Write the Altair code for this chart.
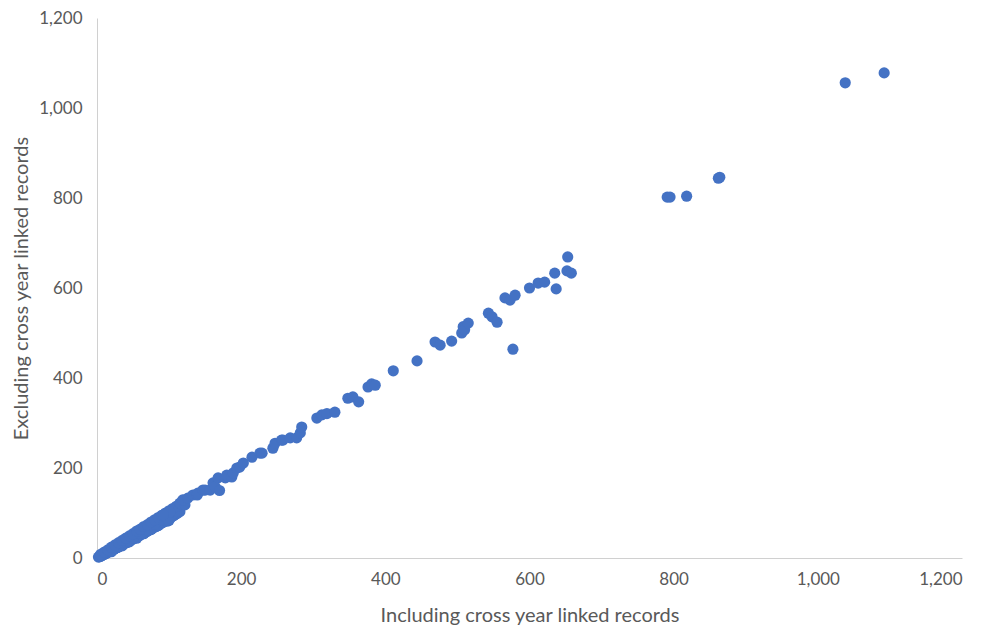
import altair as alt
import pandas as pd

# Including cross year linked records (x) vs Excluding (y)
incl = [2, 3, 4, 5, 6, 7, 8, 9, 10, 11, 12, 13, 14, 15, 16, 17, 18, 19, 20, 21,
        22, 23, 24, 25, 26, 27, 28, 29, 30, 32, 33, 34, 35, 36, 38, 39, 40, 42, 43, 45,
        46, 48, 50, 51, 53, 55, 56, 58, 60, 62, 63, 65, 67, 69, 70, 72, 74, 76, 78, 80,
        82, 84, 86, 88, 90, 92, 94, 96, 98, 100, 102, 104, 106, 108, 110, 112, 115,
        20, 35, 45, 55, 65, 75, 85, 92, 98, 100, 30, 50, 60, 70, 80, 90, 95, 105, 110,
        5, 10, 15, 20, 25, 30, 35, 40, 45, 50, 55, 60, 65, 70, 75, 80, 85, 90, 95, 100,
        105, 110, 115, 120,
        99, 101, 92, 115, 122, 119, 126, 133, 139, 140, 147, 150, 157, 161, 164, 170,
        168, 178, 180, 187, 189, 194, 198, 203, 215, 226, 229, 244, 247, 256, 258, 268,
        277, 282, 284, 305, 312, 319, 330, 348, 355, 363, 376, 381, 386, 411, 444, 469,
        476, 492, 506, 508, 510, 515, 543, 548, 555, 566, 573, 577, 580, 600, 612, 621,
        635, 637, 652, 653, 658, 791, 795, 818, 862, 864, 1038, 1092]
excl = [2, 3, 3, 4, 5, 6, 7, 8, 8, 9, 10, 11, 12, 13, 13, 14, 15, 16, 17, 18,
        18, 19, 20, 21, 22, 23, 23, 24, 25, 27, 28, 28, 29, 30, 32, 33, 34, 35, 36, 38,
        39, 41, 42, 43, 45, 47, 48, 49, 51, 53, 54, 56, 57, 59, 60, 62, 63, 65, 67, 69,
        70, 72, 74, 76, 78, 80, 82, 83, 86, 88, 90, 92, 94, 96, 98, 100, 103,
        14, 27, 36, 44, 54, 63, 72, 80, 82, 84, 26, 45, 55, 62, 75, 85, 90, 98, 104,
        8, 13, 18, 24, 29, 34, 39, 44, 49, 54, 60, 64, 70, 74, 80, 85, 90, 95, 100, 105,
        110, 115, 120, 125,
        84, 102, 96, 122, 118, 129, 133, 140, 140, 144, 151, 151, 151, 167, 158, 150,
        178, 178, 184, 180, 189, 200, 202, 211, 224, 233, 233, 244, 255, 262, 262, 267,
        267, 278, 291, 311, 318, 321, 324, 355, 358, 347, 380, 387, 384, 416, 438, 480,
        473, 482, 500, 514, 507, 522, 544, 536, 524, 578, 573, 464, 584, 600, 611, 613,
        633, 598, 638, 669, 633, 802, 802, 804, 844, 846, 1056, 1078]

x_ticks = [0, 200, 400, 600, 800, 1000, 1200]
y_ticks = [0, 200, 400, 600, 800, 1000, 1200]

df = pd.DataFrame({"incl": incl, "excl": excl})

FONT = "Lato"
TXT = "#595959"

chart = alt.Chart(df).mark_circle(size=125, color="#4472C4", opacity=1).encode(
    x=alt.X("incl:Q",
            scale=alt.Scale(domain=[0, 1200], nice=False, zero=True),
            axis=alt.Axis(title="Including cross year linked records", values=x_ticks,
                          format=",.0f", grid=False, ticks=False, domainColor="#D0D0D0",
                          labelPadding=13, labelFontSize=17, labelColor=TXT, labelFont=FONT,
                          titleFont=FONT, titleFontSize=20, titleFontWeight="normal",
                          titleColor=TXT, titleBaseline="middle", titleY=57)),
    y=alt.Y("excl:Q",
            scale=alt.Scale(domain=[0, 1200], nice=False, zero=True),
            axis=alt.Axis(title="Excluding cross year linked records", values=y_ticks,
                          format=",.0f", grid=False, ticks=False, domainColor="#D0D0D0",
                          labelPadding=15, labelFontSize=17, labelColor=TXT, labelFont=FONT,
                          titleFont=FONT, titleFontSize=20, titleFontWeight="normal",
                          titleColor=TXT, titleBaseline="middle", titleX=-76, titleY=270)),
).properties(
    width=865, height=540,
    autosize=alt.AutoSizeParams(type="none"),
    padding={"left": 89, "top": 10, "right": 10, "bottom": 70},
).configure(background="white").configure_view(strokeWidth=0)

chart.save("out.html", embed_options={"renderer": "svg", "actions": False})
